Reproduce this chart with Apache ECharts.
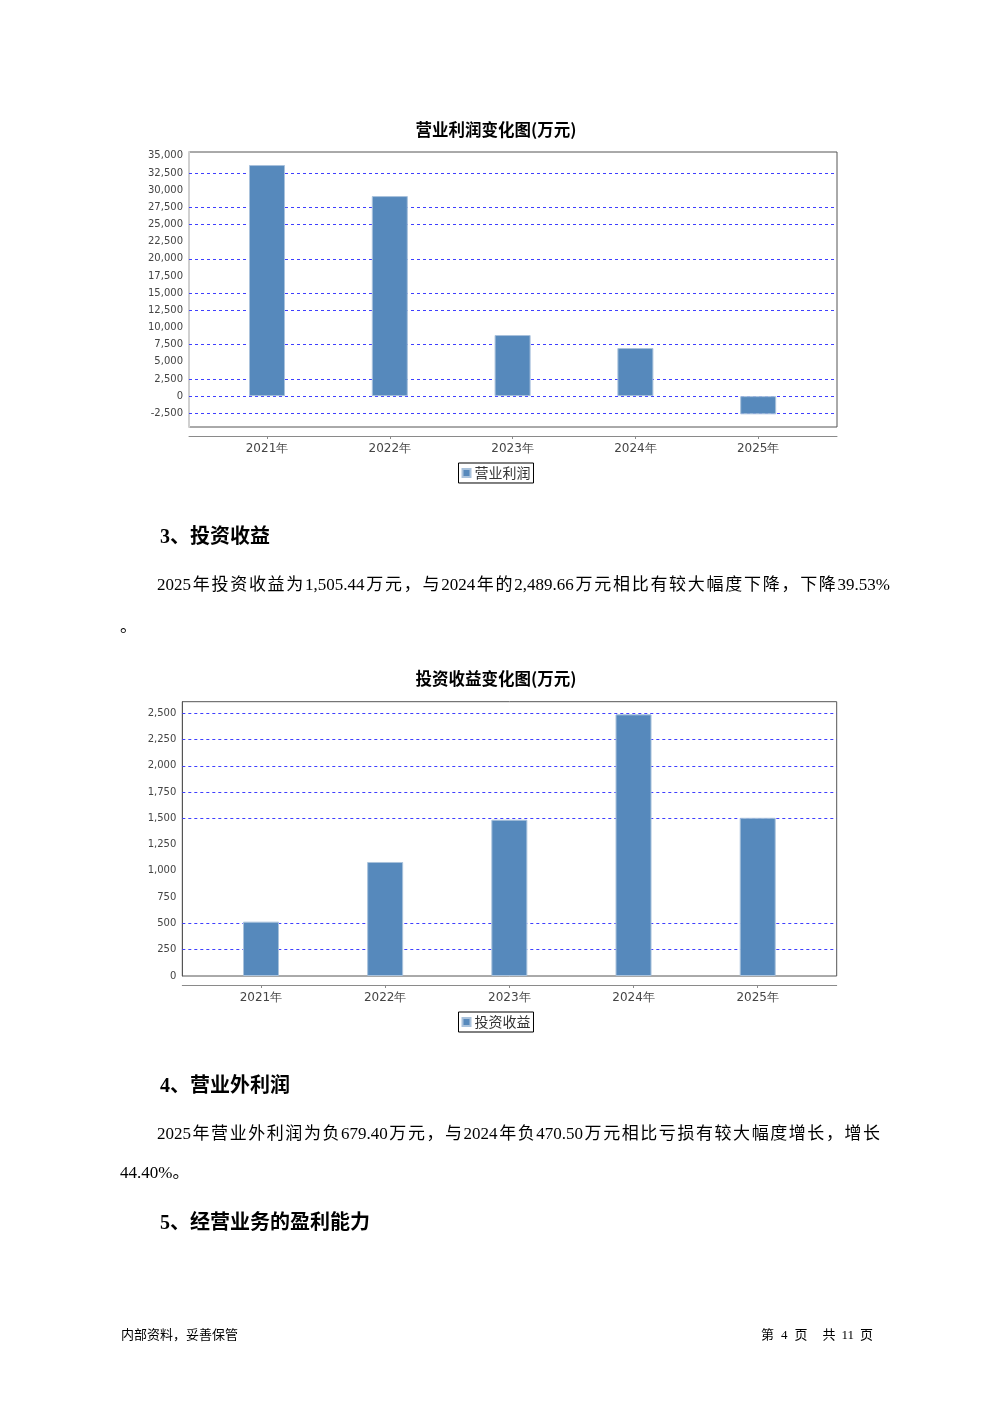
<!DOCTYPE html>
<html>
<head>
<meta charset="utf-8">
<script src="https://cdn.jsdelivr.net/npm/echarts@6/dist/echarts.min.js"></script>
<style>
  html, body { margin: 0; padding: 0; background: #fff; }
  #page { position: relative; width: 992px; height: 1403px; overflow: hidden; }
  #chart { position: absolute; left: 0; top: 0; width: 992px; height: 1403px; }
  .t { position: absolute; white-space: nowrap; color: #000; }
  .h { font-family: "Liberation Serif", "Noto Sans CJK SC", serif; font-weight: bold; font-size: 20px; line-height: 24px; }
  .p { font-family: "Liberation Serif", "Noto Sans CJK SC", serif; font-size: 17px; line-height: 22px; }
  .j { text-align: justify; text-align-last: justify; }
  .f { font-family: "Noto Sans CJK SC", sans-serif; font-size: 13px; line-height: 16px; }
  .f .n { font-family: "Liberation Serif", serif; }
</style>
</head>
<body>
<div id="page">
  <div id="chart"></div>
  <div class="t h" style="left:160px; top:524px;">3、投资收益</div>
  <div class="t p j" style="left:157px; top:574px; width:733px;">2025年投资收益为1,505.44万元，与2024年的2,489.66万元相比有较大幅度下降，下降39.53%</div>
  <div class="t p" style="left:120px; top:616px;">。</div>
  <div class="t h" style="left:160px; top:1073px;">4、营业外利润</div>
  <div class="t p j" style="left:157px; top:1123px; width:723px;">2025年营业外利润为负679.40万元，与2024年负470.50万元相比亏损有较大幅度增长，增长</div>
  <div class="t p" style="left:120px; top:1162px;">44.40%。</div>
  <div class="t h" style="left:160px; top:1210px;">5、经营业务的盈利能力</div>
  <div class="t f" style="left:121px; top:1326px;">内部资料，妥善保管</div>
  <div class="t f" style="left:761px; top:1326px;"><span>第</span><span class="n" style="margin:0 7px">4</span><span>页</span><span style="margin-left:15px">共</span><span class="n" style="margin:0 6px">11</span><span>页</span></div>
</div>
<script>
// ---- data ----
const years = ['2021年', '2022年', '2023年', '2024年', '2025年'];
const operatingProfit = [33660, 29140, 8900, 7005, -2650];      // 营业利润 (万元)
const investIncome = [517, 1085, 1487, 2489.66, 1505.44];       // 投资收益 (万元)
const profitGridLines = [32500, 27500, 25000, 20000, 15000, 12500, 7500, 2500, 0, -2500];
const investGridLines = [2500, 2250, 2000, 1750, 1500, 500, 250];
const chartTitles = ['营业利润变化图(万元)', '投资收益变化图(万元)'];
const seriesNames = ['营业利润', '投资收益'];

const BAR = '#5689bc';
const GRIDLINE = '#3f3fff';
const fmt = v => Number(v).toLocaleString('en-US');

function block(i, box, inner, yMin, yMax, step, values, gridLines, barW, leftAxisColor) {
  const g0 = i * 2, g1 = i * 2 + 1;
  return {
    grid: [
      { left: box.left, top: box.top, width: box.width, height: box.height, show: true,
        borderColor: '#555', borderWidth: 1, backgroundColor: 'transparent' },
      { left: inner.left, top: box.top, width: inner.width, height: box.height }
    ],
    xAxis: [
      { gridIndex: g0, type: 'value', min: 0, max: 1, offset: 9, position: 'bottom',
        axisLine: { show: true, onZero: false, lineStyle: { color: '#8a8a8a', width: 1 } },
        axisTick: { show: false }, axisLabel: { show: false }, splitLine: { show: false } },
      { gridIndex: g1, type: 'category', data: years, offset: 9, position: 'bottom',
        axisLine: { show: false, onZero: false },
        axisTick: { show: true, alignWithLabel: true, length: 3, lineStyle: { color: '#8a8a8a' } },
        axisLabel: { margin: 7, fontSize: 12, fontFamily: 'DejaVu Sans', color: '#444' },
        splitLine: { show: false } }
    ],
    yAxis: [
      { gridIndex: g0, type: 'value', min: yMin, max: yMax, minInterval: step, maxInterval: step,
        axisLine: { show: true, onZero: false, lineStyle: { color: leftAxisColor, width: leftAxisColor === '#555' ? 1 : 2 } },
        axisTick: { show: false },
        axisLabel: { showMinLabel: yMin === 0, showMaxLabel: false, margin: 6, fontSize: 10,
          fontFamily: 'DejaVu Sans', color: '#444', formatter: fmt },
        splitLine: { show: false } },
      { gridIndex: g1, type: 'value', min: yMin, max: yMax, show: false, splitLine: { show: false } }
    ],
    series: [
      { type: 'line', name: '_grid' + i, xAxisIndex: i * 2, yAxisIndex: i * 2,
        data: [[0.5, yMin]], showSymbol: false, symbol: 'none', silent: true,
        lineStyle: { opacity: 0 }, z: 1,
        markLine: { silent: true, symbol: 'none', z: 1, label: { show: false },
          lineStyle: { color: GRIDLINE, type: [3, 3], width: 1 },
          data: gridLines.map(v => ({ yAxis: v })) } },
      { type: 'bar', name: seriesNames[i], xAxisIndex: i * 2 + 1, yAxisIndex: i * 2 + 1,
        data: values, barWidth: barW, z: 2,
        itemStyle: { color: BAR, borderColor: '#a9c2dc', borderWidth: 1 } }
    ]
  };
}

const b1 = block(0, { left: 189, top: 152, width: 648, height: 275 },
  { left: 205.6, width: 614 }, -4495, 35560, 2500, operatingProfit, profitGridLines, 36, '#d0d0d0');
const b2 = block(1, { left: 182.3, top: 701.7, width: 654.4, height: 274.3 },
  { left: 198.9, width: 620.9 }, 0, 2610, 250, investIncome, investGridLines, 36, '#555');

const legendBase = {
  left: 'center', orient: 'horizontal', icon: 'rect', itemWidth: 8, itemHeight: 8, itemGap: 5,
  borderColor: '#000', borderWidth: 1, padding: [3, 3, 3, 3], selectedMode: false,
  textStyle: { fontSize: 14, color: '#333', fontFamily: 'Noto Sans CJK SC', padding: [0, 0, 0, -1] }
};

const option = {
  animation: false,
  backgroundColor: '#fff',
  title: [
    { text: chartTitles[0], left: 'center', top: 121, padding: 0,
      textStyle: { fontSize: 16.5, fontWeight: 'bold', color: '#000', fontFamily: 'Noto Sans CJK SC' } },
    { text: chartTitles[1], left: 'center', top: 670, padding: 0,
      textStyle: { fontSize: 16.5, fontWeight: 'bold', color: '#000', fontFamily: 'Noto Sans CJK SC' } }
  ],
  legend: [
    Object.assign({}, legendBase, { top: 463, data: [seriesNames[0]] }),
    Object.assign({}, legendBase, { top: 1012, data: [seriesNames[1]] })
  ],
  grid: b1.grid.concat(b2.grid),
  xAxis: b1.xAxis.concat(b2.xAxis),
  yAxis: b1.yAxis.concat(b2.yAxis),
  series: b1.series.concat(b2.series)
};

const chart = echarts.init(document.getElementById('chart'), null, { renderer: 'canvas' });
chart.setOption(option);
</script>
</body>
</html>
